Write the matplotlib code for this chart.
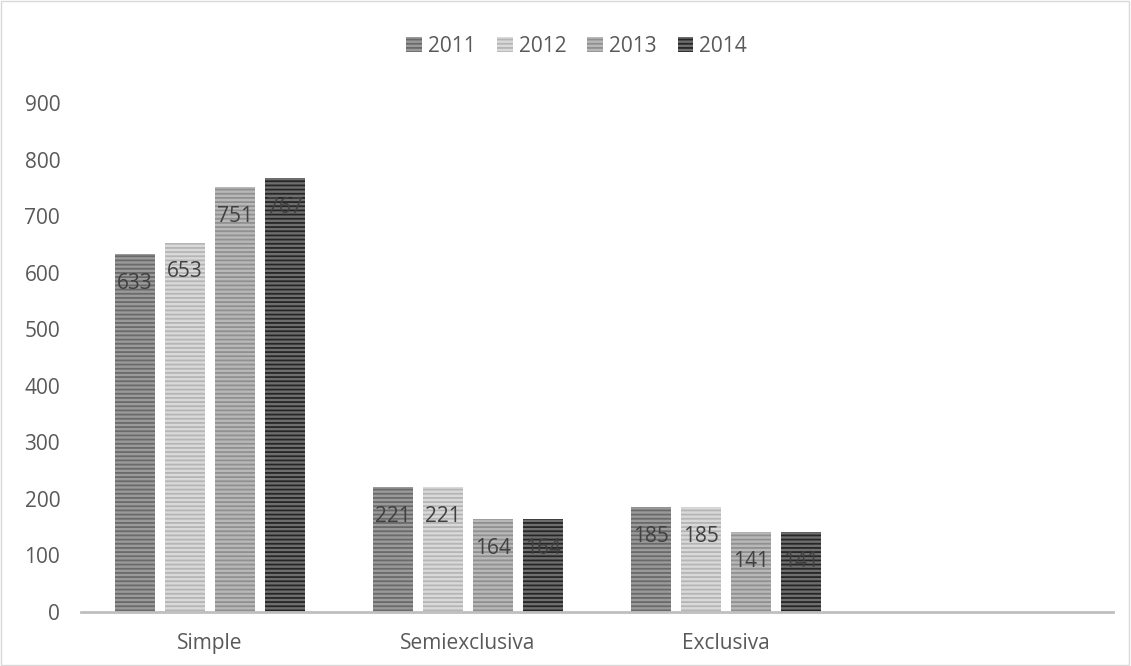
import matplotlib.pyplot as plt
import numpy as np

plt.rcParams['font.family'] = ['Open Sans', 'DejaVu Sans']
plt.rcParams['hatch.linewidth'] = 1.3

categories = ['Simple', 'Semiexclusiva', 'Exclusiva', '']
years = ['2011', '2012', '2013', '2014']
values = {
	'2011': [633, 221, 185, None],
	'2012': [653, 221, 185, None],
	'2013': [751, 164, 141, None],
	'2014': [767, 164, 141, None],
}
face_colors = ['#9a9a9a', '#d9d9d9', '#b8b8b8', '#6e6e6e']
stripe_colors = ['#6a6a6a', '#b5b5b5', '#909090', '#262626']

fig = plt.figure(figsize=(11.31, 6.66), dpi=100)
ax = fig.add_axes([0.0716, 0.081, 0.9124, 0.7643])

x = np.arange(len(categories))
offsets = [-0.29, -0.097, 0.097, 0.29]
width = 0.155
for i, yr in enumerate(years):
	vals = [v if v is not None else 0 for v in values[yr]]
	bars = ax.bar(x + offsets[i], vals, width, color=face_colors[i], edgecolor=stripe_colors[i],
				  linewidth=0, hatch='----', label=yr)
	for b, v in zip(bars, values[yr]):
		if v is None:
			continue
		ax.annotate(str(v), (b.get_x() + b.get_width() / 2, v), xytext=(0, -21),
					textcoords='offset points', ha='center', va='center', fontsize=15, color='#404040')

ax.set_xlim(-0.5, 3.5)
ax.set_ylim(0, 900)
ax.set_yticks(range(0, 901, 100))
ax.set_xticks(x)
ax.set_xticklabels(categories)
for s in ['top', 'right', 'left']:
	ax.spines[s].set_visible(False)
ax.spines['bottom'].set_color('#bfbfbf')
ax.spines['bottom'].set_linewidth(2)
ax.tick_params(axis='both', length=0, labelsize=15, colors='#595959')
ax.tick_params(axis='y', pad=15)
ax.tick_params(axis='x', pad=15)

fig.legend(loc='center', bbox_to_anchor=(0.51, 0.93), ncol=4, frameon=False, fontsize=15,
		   handlelength=0.75, handleheight=0.75, handletextpad=0.3, columnspacing=1.0, labelcolor='#595959')

fig.patches.append(plt.Rectangle((0.001, 0.001), 0.997, 0.997, transform=fig.transFigure,
								 fill=False, edgecolor='#d9d9d9', linewidth=1))
plt.savefig('out.png')
